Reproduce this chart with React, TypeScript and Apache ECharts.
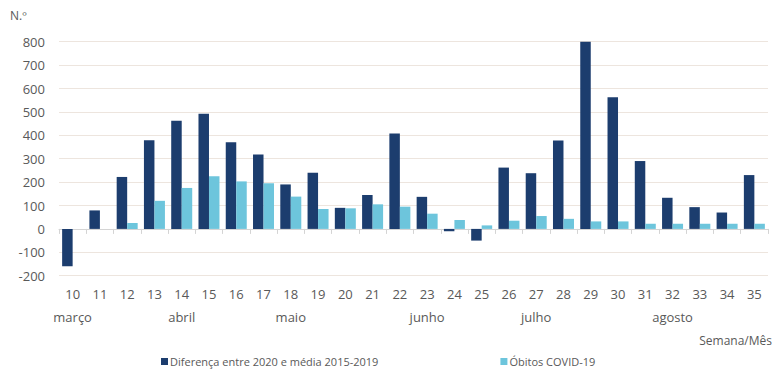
import React, { useEffect, useRef } from "react";
import * as echarts from "echarts";

const weeks = ["10","11","12","13","14","15","16","17","18","19","20","21","22","23","24","25","26","27","28","29","30","31","32","33","34","35"];
const months = ["março","","","","abril","","","","maio","","","","","junho","","","","julho","","","","","agosto","","",""];
const diferenca = [-160, 79, 222, 379, 462, 492, 370, 318, 190, 240, 90, 145, 408, 137, -10, -50, 262, 238, 378, 800, 563, 290, 133, 93, 70, 230];
const obitos = [0, 0, 25, 120, 175, 225, 203, 195, 138, 85, 88, 105, 95, 65, 38, 15, 35, 55, 43, 32, 32, 22, 22, 22, 22, 22];
const seriesNames = ["Diferença entre 2020 e média 2015-2019", "Óbitos COVID-19"];
const yTitle = "N.º";
const xTitle = "Semana/Mês";

const FONT = "'Open Sans', 'Noto Sans', sans-serif";
const TEXT = "#595959";

export default function App() {
  const ref = useRef<HTMLDivElement>(null);
  useEffect(() => {
    document.body.style.margin = "0";
    const chart = echarts.init(ref.current!, null, { renderer: "svg" });
    chart.setOption({
      animation: false,
      textStyle: { fontFamily: FONT },
      grid: { left: 59, right: 6, top: 41.7, bottom: 93.3, containLabel: false },
      legend: {
        left: 156,
        top: 351,
        itemWidth: 7,
        itemHeight: 7,
        itemGap: 122,
        icon: "rect",
        textStyle: { fontSize: 11, color: TEXT, fontFamily: FONT, padding: [0, 0, 0, -3] },
        data: seriesNames,
      },
      graphic: [
        { type: "text", left: 10, top: 9, style: { text: yTitle, fontSize: 12, fill: TEXT, fontFamily: FONT } },
        { type: "text", right: 2, top: 334, style: { text: xTitle, fontSize: 12, fill: TEXT, fontFamily: FONT } },
      ],
      xAxis: [
        {
          type: "category",
          data: weeks,
          position: "bottom",
          axisLine: { show: true, onZero: true, lineStyle: { color: "#d4d4d4", width: 1 } },
          axisTick: { show: true, length: 5, lineStyle: { color: "#d4d4d4" } },
          axisLabel: { show: false },
          splitLine: { show: false },
        },
        {
          type: "category",
          data: weeks,
          position: "bottom",
          axisLine: { show: false, onZero: false },
          axisTick: { show: false },
          axisLabel: { show: true, margin: 12, fontSize: 13, color: TEXT, fontFamily: FONT, interval: 0 },
          splitLine: { show: false },
        },
        {
          type: "category",
          data: months,
          position: "bottom",
          offset: 23,
          axisLine: { show: false, onZero: false },
          axisTick: { show: false },
          axisLabel: { show: true, margin: 12, fontSize: 13, color: TEXT, fontFamily: FONT, interval: 0 },
          splitLine: { show: false },
        },
      ],
      yAxis: {
        type: "value",
        min: -200,
        max: 800,
        interval: 100,
        axisLine: { show: false },
        axisTick: { show: false },
        axisLabel: { margin: 14, fontSize: 13, color: TEXT, fontFamily: FONT },
        splitLine: { show: true, lineStyle: { color: "#ede5de", width: 1 } },
      },
      series: [
        {
          name: seriesNames[0],
          type: "bar",
          xAxisIndex: 0,
          data: diferenca,
          barGap: "0%",
          barCategoryGap: "23%",
          itemStyle: { color: "#1c3d6e" },
        },
        {
          name: seriesNames[1],
          type: "bar",
          xAxisIndex: 0,
          data: obitos,
          barGap: "0%",
          barCategoryGap: "23%",
          itemStyle: { color: "#6dc5dc" },
        },
      ],
    });
    return () => chart.dispose();
  }, []);
  return <div ref={ref} style={{ width: 774, height: 369 }} />;
}
